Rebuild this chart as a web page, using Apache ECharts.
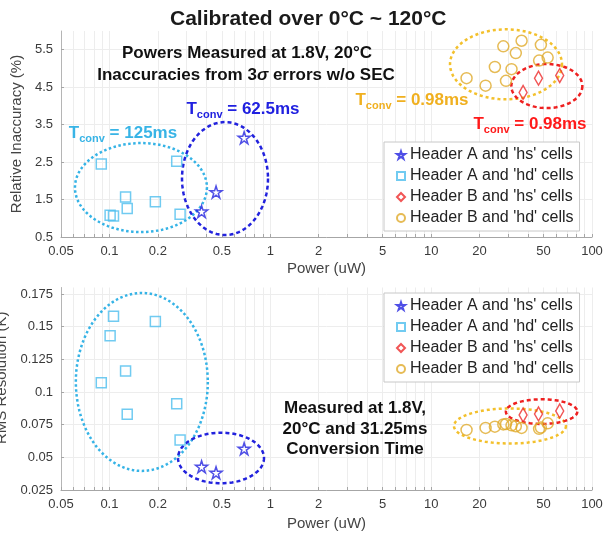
<!DOCTYPE html>
<html>
<head>
<meta charset="utf-8">
<script src="https://cdn.jsdelivr.net/npm/echarts@6/dist/echarts.min.js"></script>
<style>
  html, body { margin: 0; padding: 0; background: #fff; }
  #chart { width: 605px; height: 541px; }
</style>
</head>
<body>
<div id="chart"></div>
<script>
// power of each cell (uW) and its inaccuracy (%) / rms resolution (K)
const powerAhs = [0.374, 0.46, 0.688]
const accAhs = [1.18, 1.70, 3.15]
const resAhs = [0.0428, 0.0382, 0.0566]

const powerAhd = [0.089, 0.101, 0.106, 0.126, 0.129, 0.193, 0.262, 0.275]
const accAhd = [2.45, 1.08, 1.06, 1.57, 1.26, 1.44, 2.52, 1.11]
const resAhd = [0.107, 0.143, 0.158, 0.116, 0.083, 0.154, 0.091, 0.0633]

const powerBhs = [37.3, 46.5, 63.0]
const accBhs = [4.36, 4.74, 4.81]
const resBhs = [0.0824, 0.0832, 0.0855]

const powerBhd = [16.6, 21.8, 24.9, 28.1, 29.2, 31.6, 33.6, 36.5, 46.9, 48.1, 53.0]
const accBhd = [4.74, 4.54, 5.04, 5.59, 4.67, 4.98, 5.41, 5.74, 5.21, 5.63, 5.29]
const resBhd = [0.071, 0.0725, 0.0735, 0.0752, 0.0755, 0.0745, 0.0738, 0.0725, 0.0718, 0.0728, 0.076]

const xTicks = [0.05, 0.1, 0.2, 0.5, 1, 2, 5, 10, 20, 50, 100]
const accTicks = [0.5, 1.5, 2.5, 3.5, 4.5, 5.5]
const resTicks = [0.025, 0.05, 0.075, 0.1, 0.125, 0.15, 0.175]

const seriesNames = ["Header A and 'hs' cells", "Header A and 'hd' cells", "Header B and 'hs' cells", "Header B and 'hd' cells"]

// minor grid on the log axis: 1..9 in every decade
const xMinor = []
;[0.01, 0.1, 1, 10].forEach(d => {
  for (let k = 1; k <= 9; k++) {
    const v = +(d * k).toPrecision(3)
    if (v >= 0.05 && v <= 100) xMinor.push(v)
  }
})
xMinor.push(100)

const font = 'Liberation Sans, Arial, Helvetica, sans-serif'
const starPath = 'path://M50 0L61.23 34.55L97.55 34.55L68.17 55.9L79.39 90.45L50 69.1L20.61 90.45L31.83 55.9L2.45 34.55L38.77 34.55Z'
const colors = ['#2323e0', '#4dbeee', '#ee2a2a', '#e0aa2a']
const symbols = [starPath, 'rect', 'diamond', 'circle']
const sizes = [12, 10, [8, 14], 11]

const powers = [powerAhs, powerAhd, powerBhs, powerBhd]
const accs = [accAhs, accAhd, accBhs, accBhd]
const ress = [resAhs, resAhd, resBhs, resBhd]

const chart = echarts.init(document.getElementById('chart'))

const series = []
;[0, 1].forEach(g => {
  seriesNames.forEach((name, k) => {
    const ys = g === 0 ? accs[k] : ress[k]
    series.push({
      name: name,
      type: 'scatter',
      xAxisIndex: g,
      yAxisIndex: g,
      symbol: symbols[k],
      symbolSize: sizes[k],
      itemStyle: { color: 'rgba(255,255,255,0)', borderColor: colors[k], borderWidth: 1.5 },
      data: powers[k].map((p, i) => [p, ys[i]]),
      z: 5
    })
  })
})

const xAxisFor = (g, gap) => ({
  type: 'log',
  logBase: 10,
  gridIndex: g,
  min: 0.05,
  max: 100,
  name: 'Power (uW)',
  nameLocation: 'middle',
  nameGap: gap,
  nameTextStyle: { fontSize: 15, color: '#444', fontFamily: font },
  axisLine: { lineStyle: { color: '#a6a6a6' } },
  axisTick: { inside: true, length: 3, customValues: xMinor, lineStyle: { color: '#a6a6a6' } },
  axisLabel: {
    customValues: xTicks, fontSize: 13, color: '#3a3a3a', fontFamily: font,
    formatter: v => String(+(+v).toPrecision(4))
  },
  splitLine: { show: true, lineStyle: { color: '#ededed' } }
})

const yAxisFor = (g, min, max, ticks, name, gap, pad) => ({
  type: 'value',
  gridIndex: g,
  min: min,
  max: max,
  name: name,
  nameLocation: 'middle',
  nameGap: gap,
  nameTextStyle: { fontSize: 15, color: '#444', fontFamily: font, padding: pad },
  axisLine: { show: true, lineStyle: { color: '#b5b5b5' } },
  axisTick: { show: true, inside: true, length: 3, customValues: ticks, lineStyle: { color: '#a6a6a6' } },
  axisLabel: { customValues: ticks, fontSize: 13, color: '#3a3a3a', fontFamily: font },
  splitLine: { show: true, lineStyle: { color: '#ededed' } }
})

const legendFor = top => ({
  orient: 'vertical',
  left: 384,
  top: top,
  data: seriesNames,
  itemWidth: 8,
  itemHeight: 8,
  itemGap: 5,
  padding: [5, 6, 5, 12],
  backgroundColor: '#fff',
  borderColor: '#c8c8c8',
  borderWidth: 1,
  textStyle: { fontSize: 16, color: '#222', fontFamily: font },
  selectedMode: false
})

chart.setOption({
  animation: false,
  title: {
    text: 'Calibrated over 0°C ~ 120°C',
    left: 165,
    top: 4,
    textStyle: { fontSize: 21, fontWeight: 'bold', color: '#1a1a1a', fontFamily: font }
  },
  grid: [
    { left: 61, right: 13, top: 31, height: 206, outerBoundsMode: 'none' },
    { left: 61, right: 13, top: 287.5, height: 202.5, outerBoundsMode: 'none' }
  ],
  xAxis: [xAxisFor(0, 24), xAxisFor(1, 26)],
  yAxis: [
    yAxisFor(0, 0.5, 6, accTicks, 'Relative Inaccuracy (%)', 32, [0, 0, 0, 0]),
    yAxisFor(1, 0.025, 0.18, resTicks, 'RMS Resolution (K)', 41, [0, 0, 0, 22])
  ],
  legend: [legendFor(142), legendFor(293)],
  series: series
})

// dashed ellipses that group the cells (centre in data units, radii in px)
const ellipses = [
  { g: 0, p: 0.157, v: 1.82, rx: 66, ry: 44.5, color: '#35b3e6', dash: [2.5, 2.5] },
  { g: 0, p: 0.523, v: 2.06, rx: 43, ry: 56.5, color: '#2222dd', dash: [4, 3] },
  { g: 0, p: 29.2, v: 5.11, rx: 56, ry: 35, color: '#f3c02c', dash: [3, 3] },
  { g: 0, p: 52.4, v: 4.53, rx: 35.5, ry: 22, color: '#ee2020', dash: [4, 3] },
  { g: 1, p: 0.159, v: 0.1077, rx: 66, ry: 89, color: '#35b3e6', dash: [2.5, 2.5] },
  { g: 1, p: 0.494, v: 0.0495, rx: 43, ry: 25.3, color: '#2222dd', dash: [4, 3] },
  { g: 1, p: 30.9, v: 0.074, rx: 56, ry: 17.5, color: '#f3c02c', dash: [3, 3] },
  { g: 1, p: 48.6, v: 0.085, rx: 35.7, ry: 12.3, color: '#ee2020', dash: [4, 3] }
]

const graphics = ellipses.map(e => {
  const c = chart.convertToPixel({ gridIndex: e.g }, [e.p, e.v])
  const pts = []
  for (let i = 0; i < 96; i++) {
    const a = i / 96 * Math.PI * 2
    pts.push([c[0] + e.rx * Math.cos(a), c[1] + e.ry * Math.sin(a)])
  }
  return {
    type: 'polygon',
    shape: { points: pts },
    style: { fill: 'none', stroke: e.color, lineWidth: 2.5, lineDash: e.dash },
    z: 4
  }
})

const tconv = (x, y, val, color) => ({
  type: 'text',
  x: x,
  y: y,
  z: 6,
  style: {
    text: '{t|T}{s|conv}{t| = ' + val + '}',
    textAlign: 'center',
    textVerticalAlign: 'middle',
    fill: color,
    rich: {
      t: { fontSize: 17, fontWeight: 'bold', fontFamily: font, fill: color, lineHeight: 22, verticalAlign: 'middle' },
      s: { fontSize: 11, fontWeight: 'bold', fontFamily: font, fill: color, verticalAlign: 'bottom' }
    }
  }
})

const boldText = (x, y, text) => ({
  type: 'text',
  x: x,
  y: y,
  z: 6,
  style: {
    text: text,
    textAlign: 'center',
    textVerticalAlign: 'middle',
    fill: '#111',
    font: 'bold 17px ' + font
  }
})

graphics.push(
  tconv(412, 100, '0.98ms', '#f0b020'),
  tconv(243, 109, '62.5ms', '#2020e0'),
  tconv(530, 124, '0.98ms', '#ff1a1a'),
  tconv(123, 133, '125ms', '#38b4e6'),
  boldText(247, 53, 'Powers Measured at 1.8V, 20°C'),
  {
    type: 'text', x: 246, y: 75, z: 6,
    style: {
      text: '{b|Inaccuracies from 3}{i|σ}{b| errors w/o SEC}',
      textAlign: 'center',
      textVerticalAlign: 'middle',
      rich: {
        b: { fontSize: 17, fontWeight: 'bold', fontFamily: font, fill: '#111' },
        i: { fontSize: 17, fontWeight: 'bold', fontStyle: 'italic', fontFamily: font, fill: '#111' }
      }
    }
  },
  boldText(355, 408, 'Measured at 1.8V,'),
  boldText(355, 429, '20°C and 31.25ms'),
  boldText(355, 449, 'Conversion Time')
)

chart.setOption({ graphic: graphics })
</script>
</body>
</html>
